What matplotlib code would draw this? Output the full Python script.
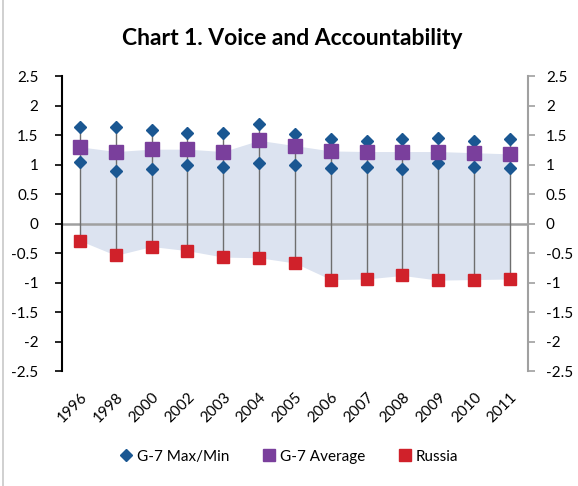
import matplotlib.pyplot as plt
from matplotlib.lines import Line2D
from matplotlib.patches import Rectangle

plt.rcParams['font.family'] = ['Lato', 'DejaVu Sans']

# data
years = ['1996', '1998', '2000', '2002', '2003', '2004', '2005',
         '2006', '2007', '2008', '2009', '2010', '2011']
g7_max = [1.63, 1.63, 1.59, 1.54, 1.54, 1.68, 1.51, 1.43, 1.40, 1.43, 1.45, 1.40, 1.43]
g7_min = [1.05, 0.89, 0.93, 1.00, 0.96, 1.03, 1.00, 0.94, 0.96, 0.93, 1.02, 0.96, 0.94]
g7_avg = [1.30, 1.22, 1.26, 1.26, 1.22, 1.41, 1.32, 1.23, 1.22, 1.22, 1.22, 1.20, 1.18]
russia = [-0.29, -0.54, -0.39, -0.46, -0.57, -0.58, -0.67, -0.95, -0.94, -0.88, -0.96, -0.95, -0.94]

blue = '#1a5792'
purple = '#7a3f9c'
red = '#d0212a'
fill = '#dce3f0'

fig = plt.figure(figsize=(5.78, 4.86), dpi=100)
fig.patches.append(Rectangle((0.005, -0.01), 1.2, 1.2, transform=fig.transFigure,
                             fill=False, edgecolor='#c8c8c8', lw=1.2))
ax = fig.add_axes([0.1073, 0.2366, 0.806, 0.607])
x = list(range(len(years)))

ax.fill_between(x, russia, g7_avg, color=fill, lw=0, zorder=1)
ax.axhline(0, color='#a0a0a0', lw=1.8, zorder=2)
ax.vlines(x, russia, g7_max, color='#6e6e6e', lw=1.0, zorder=3)
ax.plot(x, g7_max, 'D', color=blue, ms=6.5, ls='none', zorder=4)
ax.plot(x, g7_min, 'D', color=blue, ms=6.5, ls='none', zorder=4)
ax.plot(x, g7_avg, 's', color=purple, ms=10, ls='none', zorder=5)
ax.plot(x, russia, 's', color=red, ms=9, ls='none', zorder=5)

ax.set_xlim(-0.5, len(years) - 0.5)
ax.set_ylim(-2.5, 2.5)
yt = [2.5, 2, 1.5, 1, 0.5, 0, -0.5, -1, -1.5, -2, -2.5]
ylab = ['%g' % v for v in yt]
ax.set_yticks(yt)
ax.set_yticklabels(ylab, fontsize=11)
ax.set_xticks(x)
ax.set_xticklabels(years, rotation=45, ha='right', va='top', rotation_mode='anchor', fontsize=11)
ax.tick_params(axis='x', length=0, pad=14)
ax.tick_params(axis='y', length=5, width=1.2, direction='out', pad=12)
for s in ['top', 'bottom', 'right']:
    ax.spines[s].set_visible(False)
ax.spines['left'].set_linewidth(1.5)

ax2 = ax.twinx()
ax2.set_ylim(-2.5, 2.5)
ax2.set_yticks(yt)
ax2.set_yticklabels(ylab, fontsize=11)
ax2.tick_params(axis='y', length=5, width=1.2, color='#a0a0a0', direction='out', pad=8)
for s in ['top', 'bottom', 'left']:
    ax2.spines[s].set_visible(False)
ax2.spines['right'].set_color('#a0a0a0')
ax2.spines['right'].set_linewidth(1.5)

fig.text(0.505, 0.92, 'Chart 1. Voice and Accountability', ha='center', va='center',
         fontsize=16.5, fontweight='bold')

handles = [Line2D([], [], marker='D', color=blue, ls='none', ms=6),
           Line2D([], [], marker='s', color=purple, ls='none', ms=9),
           Line2D([], [], marker='s', color=red, ls='none', ms=9)]
fig.legend(handles, ['G-7 Max/Min', 'G-7 Average', 'Russia'], loc='center',
           bbox_to_anchor=(0.5, 0.06), ncol=3, frameon=False, fontsize=11,
           handlelength=0.8, handletextpad=0.3, columnspacing=2.2)

fig.savefig('out.png', dpi=100)
